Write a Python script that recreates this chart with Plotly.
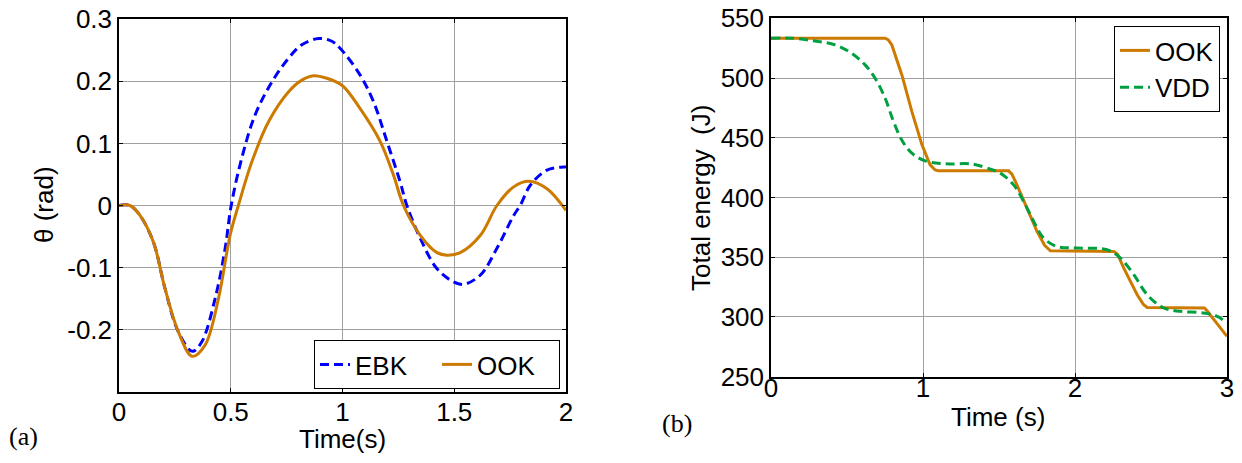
import plotly.graph_objects as go

# ---- Panel (a): theta vs time ----
t_ook_a = [0, 0.049, 0.094, 0.154, 0.206, 0.266, 0.328, 0.385, 0.445, 0.497, 0.534, 0.594,
           0.669, 0.758, 0.818, 0.870, 0.930, 1.000, 1.079, 1.169, 1.228, 1.273, 1.348, 1.423,
           1.467, 1.527, 1.617, 1.691, 1.766, 1.833, 1.915, 2.000]
th_ook = [0, 0, -0.016, -0.059, -0.134, -0.204, -0.243, -0.225, -0.150, -0.048, 0.0, 0.070,
          0.135, 0.183, 0.202, 0.209, 0.205, 0.193, 0.156, 0.103, 0.049, 0.0, -0.048, -0.076,
          -0.080, -0.076, -0.048, 0.0, 0.030, 0.039, 0.027, -0.008]

t_ebk = [0, 0.049, 0.094, 0.154, 0.206, 0.266, 0.328, 0.370, 0.430, 0.475, 0.502, 0.549,
         0.609, 0.684, 0.758, 0.818, 0.893, 0.950, 0.990, 1.079, 1.139, 1.199, 1.258, 1.288,
         1.348, 1.423, 1.497, 1.542, 1.617, 1.691, 1.766, 1.795, 1.841, 1.915, 1.987, 2.000]
th_ebk = [0, 0, -0.016, -0.059, -0.134, -0.204, -0.235, -0.220, -0.150, -0.069, 0.0, 0.076,
          0.146, 0.199, 0.237, 0.259, 0.269, 0.265, 0.253, 0.210, 0.167, 0.103, 0.038, 0.0,
          -0.053, -0.102, -0.123, -0.127, -0.112, -0.069, -0.016, 0.0, 0.033, 0.057, 0.062, 0.062]

# ---- Panel (b): total energy vs time ----
t_ook_b = [0, 0.751, 0.772, 0.795, 0.861, 0.927, 0.993, 1.047, 1.080, 1.102, 1.563, 1.585,
           1.618, 1.684, 1.750, 1.800, 1.838, 2.255, 2.280, 2.321, 2.409, 2.450, 2.475, 2.852,
           2.870, 2.914, 3.000]
e_ook = [533.3, 533.3, 532.0, 527.7, 502.6, 471.9, 444.1, 427.3, 423.0, 422.3, 422.3, 419.5,
         410.6, 391.0, 371.6, 360.0, 355.4, 354.9, 352.5, 340.9, 318.6, 310.5, 308.0, 307.5,
         305.0, 297.7, 283.8]

t_vdd = [0, 0.14, 0.29, 0.422, 0.531, 0.619, 0.685, 0.751, 0.806, 0.861, 0.927, 1.014, 1.146,
         1.322, 1.454, 1.509, 1.596, 1.662, 1.728, 1.794, 1.882, 2.014, 2.211, 2.299, 2.387,
         2.475, 2.584, 2.694, 2.848, 2.936, 3.000]
e_vdd = [533.3, 533.3, 531.0, 527.7, 520.7, 511.0, 499.8, 483.1, 463.6, 448.0, 437.1, 430.7,
         428.2, 428.0, 423.2, 420.4, 410.6, 396.7, 380.0, 366.0, 359.0, 357.7, 356.3, 349.3,
         335.4, 318.6, 307.5, 304.7, 303.3, 300.5, 295.0]

ORANGE = "#CC7A00"
BLUE = "#0000FF"
GREEN = "#00A040"
FONT = "Liberation Sans, Arial, sans-serif"
SERIF = "Liberation Serif, Times New Roman, serif"
OFF = 8  # page body margin of the browser
W, H = 1242 - OFF, 463 - OFF


def px_x(p):
    return (p - OFF) / W


def px_y(p):
    return 1 - (p - OFF) / H


fig = go.Figure()
fig.add_trace(go.Scatter(x=t_ebk, y=th_ebk, name="EBK", mode="lines",
                         line=dict(color=BLUE, width=3, dash="9px,5px", shape="spline"),
                         xaxis="x", yaxis="y", legend="legend"))
fig.add_trace(go.Scatter(x=t_ook_a, y=th_ook, name="OOK", mode="lines",
                         line=dict(color=ORANGE, width=3, shape="spline"),
                         xaxis="x", yaxis="y", legend="legend"))
fig.add_trace(go.Scatter(x=t_ook_b, y=e_ook, name="OOK", mode="lines",
                         line=dict(color=ORANGE, width=3),
                         xaxis="x2", yaxis="y2", legend="legend2"))
fig.add_trace(go.Scatter(x=t_vdd, y=e_vdd, name="VDD", mode="lines",
                         line=dict(color=GREEN, width=3, dash="9px,5px", shape="spline"),
                         xaxis="x2", yaxis="y2", legend="legend2"))

axis_common = dict(showline=True, linecolor="black", linewidth=1.5, mirror="allticks",
                   ticks="inside", ticklen=4, tickcolor="black", showgrid=True,
                   gridcolor="#a0a0a0", gridwidth=1, zeroline=False, automargin=False,
                   ticklabeloverflow="allow",
                   tickfont=dict(family=FONT, size=26, color="black"))

fig.update_layout(
    width=W, height=H,
    margin=dict(l=0, r=0, t=0, b=0, autoexpand=False),
    paper_bgcolor="white", plot_bgcolor="white",
    font=dict(family=FONT, size=26, color="black"),
    xaxis=dict(domain=[px_x(119), px_x(566)], range=[0, 2], tickvals=[0, 0.5, 1, 1.5, 2],
               ticktext=["0", "0.5", "1", "1.5", "2"], anchor="y", ticklabelstandoff=-4,
               **axis_common),
    yaxis=dict(domain=[px_y(391.7), px_y(19.3)], range=[-0.3, 0.3],
               tickvals=[-0.2, -0.1, 0, 0.1, 0.2, 0.3],
               ticktext=["-0.2", "-0.1", "0", "0.1", "0.2", "0.3"], anchor="x", **axis_common),
    xaxis2=dict(domain=[px_x(771), px_x(1227)], range=[0, 3], tickvals=[0, 1, 2, 3],
                anchor="y2", ticklabelstandoff=-13, **axis_common),
    yaxis2=dict(domain=[px_y(376.7), px_y(18.3)], range=[250, 550],
                tickvals=[250, 300, 350, 400, 450, 500, 550], anchor="x2", **axis_common),
    legend=dict(x=px_x(560), y=px_y(340), xanchor="right", yanchor="top",
                orientation="h", bgcolor="white", bordercolor="black", borderwidth=1,
                font=dict(family=FONT, size=26), entrywidth=77, entrywidthmode="pixels"),
    legend2=dict(x=px_x(1220), y=px_y(26), xanchor="right", yanchor="top",
                 orientation="v", bgcolor="white", bordercolor="black", borderwidth=1,
                 font=dict(family=FONT, size=26)),
    showlegend=True,
    annotations=[
        dict(text="(a)", x=px_x(7), y=px_y(436), xanchor="left", yanchor="middle",
             font=dict(family=SERIF, size=26)),
        dict(text="(b)", x=px_x(660), y=px_y(423), xanchor="left", yanchor="middle",
             font=dict(family=SERIF, size=26)),
        dict(text="Time(s)", x=px_x(342), y=px_y(439), xanchor="center", yanchor="middle"),
        dict(text="θ (rad)", x=px_x(44), y=px_y(205), xanchor="center", yanchor="middle",
             textangle=-90),
        dict(text="Time (s)", x=px_x(998), y=px_y(417), xanchor="center", yanchor="middle"),
        dict(text="Total energy  (J)", x=px_x(701), y=px_y(198), xanchor="center",
             yanchor="middle", textangle=-90),
    ],
)
for ann in fig.layout.annotations:
    ann.xref = "paper"
    ann.yref = "paper"
    ann.showarrow = False
    if ann.font.family is None:
        ann.font = dict(family=FONT, size=26, color="black")

fig.write_html("out.html")
